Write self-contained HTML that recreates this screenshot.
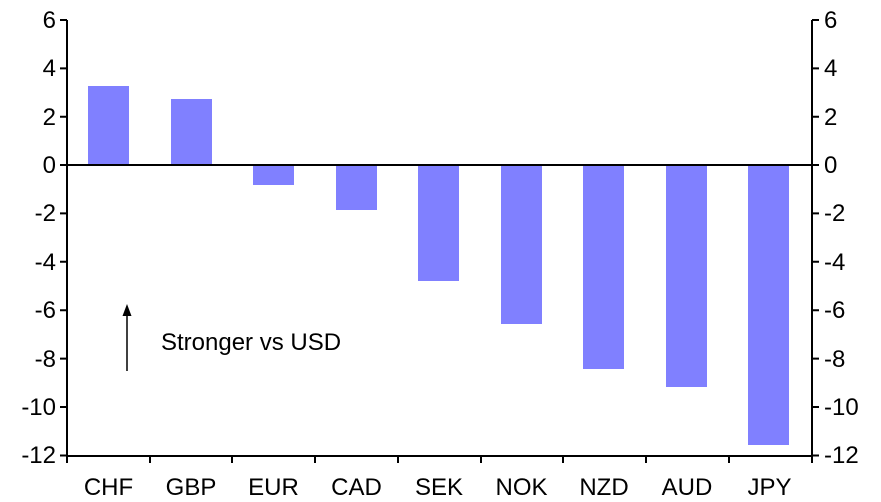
<!DOCTYPE html><html><head><style>body{margin:0;background:#fff}svg{display:block}text{font-family:"Liberation Sans",Arial,sans-serif;font-size:24px;fill:#000}</style></head><body>
<svg width="881" height="502" xmlns="http://www.w3.org/2000/svg">
<g fill="#8080ff">
<rect x="88" y="86" width="41" height="79"/>
<rect x="171" y="99" width="41" height="66"/>
<rect x="253" y="165" width="41" height="20"/>
<rect x="336" y="165" width="41" height="45"/>
<rect x="418" y="165" width="41" height="116"/>
<rect x="501" y="165" width="41" height="159"/>
<rect x="583" y="165" width="41" height="204"/>
<rect x="666" y="165" width="41" height="222"/>
<rect x="748" y="165" width="41" height="280"/>
</g>
<g stroke="#000" stroke-width="2" fill="none">
<line x1="67" y1="20" x2="67" y2="456"/>
<line x1="812" y1="20" x2="812" y2="456"/>
<line x1="67" y1="456" x2="812" y2="456"/>
<line x1="67" y1="165" x2="812" y2="165"/>
<path d="M60 20H67M60 68.4H67M60 116.8H67M60 165H67M60 213.4H67M60 261.8H67M60 310.2H67M60 358.6H67M60 407H67M60 455.5H67"/>
<path d="M812 20H819M812 68.4H819M812 116.8H819M812 165H819M812 213.4H819M812 261.8H819M812 310.2H819M812 358.6H819M812 407H819M812 455.5H819"/>
<path d="M67 456V463M150 456V463M232 456V463M315 456V463M398 456V463M481 456V463M563 456V463M646 456V463M729 456V463M812 456V463"/>
<line x1="127" y1="371" x2="127" y2="312" stroke-width="1.5"/>
</g>
<path d="M127 304L122.5 316H131.5Z" fill="#000"/>
<text x="161" y="350">Stronger vs USD</text>
<g text-anchor="end">
<text x="56" y="28">6</text><text x="56" y="76">4</text><text x="56" y="125">2</text><text x="56" y="173">0</text><text x="56" y="221">-2</text><text x="56" y="270">-4</text><text x="56" y="318">-6</text><text x="56" y="367">-8</text><text x="56" y="415">-10</text><text x="56" y="463">-12</text>
</g>
<g>
<text x="824" y="28">6</text><text x="824" y="76">4</text><text x="824" y="125">2</text><text x="824" y="173">0</text><text x="824" y="221">-2</text><text x="824" y="270">-4</text><text x="824" y="318">-6</text><text x="824" y="367">-8</text><text x="824" y="415">-10</text><text x="824" y="463">-12</text>
</g>
<g text-anchor="middle">
<text x="108.5" y="495">CHF</text><text x="191" y="495">GBP</text><text x="273.5" y="495">EUR</text><text x="356.5" y="495">CAD</text><text x="439" y="495">SEK</text><text x="521.5" y="495">NOK</text><text x="604" y="495">NZD</text><text x="687" y="495">AUD</text><text x="769.5" y="495">JPY</text>
</g>
</svg></body></html>
